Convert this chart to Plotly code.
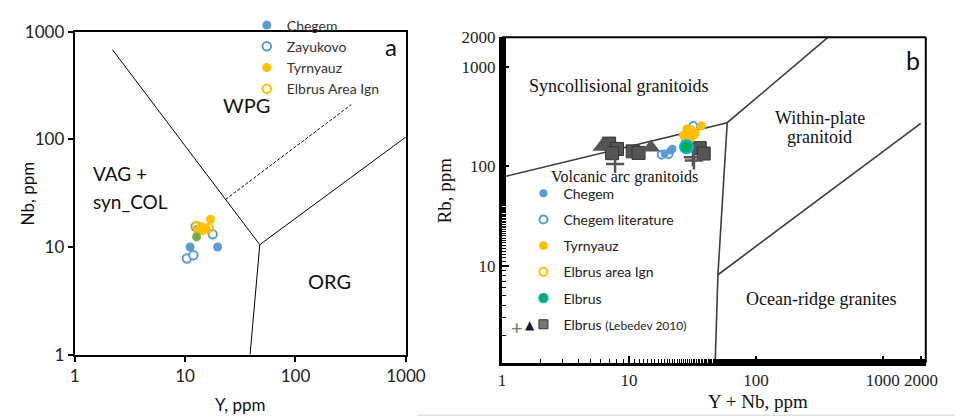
import plotly.graph_objects as go

W, H = 967, 420

# ---------------- Panel a: Nb vs Y (Pearce et al. 1984) ----------------
a_chegem_y = [11.1, 19.7]
a_chegem_nb = [10.0, 10.0]
a_chegem_small_y = [12.7]
a_chegem_small_nb = [15.2]
a_zayukovo_y = [10.4, 11.9, 17.8, 12.5]
a_zayukovo_nb = [7.8, 8.4, 13.1, 15.5]
a_tyrnyauz_y = [17.0, 14.0, 15.5, 13.1, 14.5]
a_tyrnyauz_nb = [18.1, 15.5, 14.8, 14.1, 14.2]
a_elbrus_ign_y = [16.4, 12.8, 13.6]
a_elbrus_ign_nb = [15.0, 15.7, 14.5]
a_elbrus_y = [12.7]
a_elbrus_nb = [12.4]

# boundaries, panel a
a_bound1_y = [2.2, 47.5, 1000]
a_bound1_nb = [680, 10.5, 105]
a_bound2_y = [47.5, 38.8]
a_bound2_nb = [10.5, 1.0]
a_dash_y = [23.3, 320]
a_dash_nb = [27.6, 210]

a_ticks = [1, 10, 100, 1000]

# ---------------- Panel b: Rb vs Y+Nb ----------------
b_chegem_x = [19.1, 21.3, 22.0]
b_chegem_rb = [135, 145, 151]
b_chegem_lit_x = [18.1, 20.5, 32.1]
b_chegem_lit_rb = [131, 132.5, 256]
b_tyrnyauz_x = [28.6, 37.2, 26.9, 30.3, 33.1, 27.8]
b_tyrnyauz_rb = [239, 257, 206, 198, 221, 184]
b_elbrus_ign_x = [32.6, 29.9, 30.8]
b_elbrus_ign_rb = [209, 189, 233]
b_elbrus_x = [28.4]
b_elbrus_rb = [158]
b_leb_sq_x = [6.98, 8.05, 7.36, 10.7, 11.9, 36.1, 38.8]
b_leb_sq_rb = [170, 150, 136, 142, 137, 153, 135]
b_leb_tri_x = [6.1, 14.9]
b_leb_tri_rb = [158, 155]
b_leb_cross_x = [7.77, 31.9, 32.5]
b_leb_cross_rb = [106, 124, 115]

# boundaries, panel b
b_bound1_x = [1.0, 59.4, 420]
b_bound1_rb = [78, 276, 2300]
b_bound2_x = [59.4, 50.2, 47.7]
b_bound2_rb = [276, 8.1, 1.0]
b_bound3_x = [50.2, 1990]
b_bound3_rb = [8.1, 272]

b_xticks = [1, 10, 100, 1000, 2000]
b_yticks = [10, 100, 1000, 2000]

BLUE = "#5B9BD5"
ORANGE = "#FFC000"
GREEN_A = "#70AD47"
GREEN_B = "#00B050"
CYAN = "#00B0F0"
GRAY = "#555555"

SANS = "Lato, 'Open Sans', sans-serif"
SERIF = "Liberation Serif"


def px(x):
    return x / W


def py(y):
    return 1 - y / H


fig = go.Figure()

# ----- panel a lines -----
for xs, ys, dash in [(a_bound1_y, a_bound1_nb, "solid"), (a_bound2_y, a_bound2_nb, "solid"),
                     (a_dash_y, a_dash_nb, "3px,2px")]:
    fig.add_trace(go.Scatter(x=xs, y=ys, mode="lines", line=dict(color="black", width=1, dash=dash),
                             showlegend=False, hoverinfo="skip", xaxis="x", yaxis="y"))

# ----- panel a points -----
fig.add_trace(go.Scatter(x=a_zayukovo_y, y=a_zayukovo_nb, mode="markers", name="Zayukovo",
                         marker=dict(size=8.5, color="white", line=dict(color=BLUE, width=2)),
                         xaxis="x", yaxis="y", legend="legend", legendrank=2))
fig.add_trace(go.Scatter(x=a_chegem_y, y=a_chegem_nb, mode="markers", name="Chegem",
                         marker=dict(size=9, color=BLUE),
                         xaxis="x", yaxis="y", legend="legend", legendrank=1))
fig.add_trace(go.Scatter(x=a_chegem_small_y, y=a_chegem_small_nb, mode="markers", name="Chegem",
                         marker=dict(size=5, color=BLUE), showlegend=False,
                         xaxis="x", yaxis="y"))
fig.add_trace(go.Scatter(x=a_tyrnyauz_y, y=a_tyrnyauz_nb, mode="markers", name="Tyrnyauz",
                         marker=dict(size=9, color=ORANGE),
                         xaxis="x", yaxis="y", legend="legend", legendrank=3))
fig.add_trace(go.Scatter(x=a_elbrus_ign_y, y=a_elbrus_ign_nb, mode="markers", name="Elbrus Area Ign",
                         marker=dict(size=8.5, color="rgba(0,0,0,0)", line=dict(color=ORANGE, width=2)),
                         xaxis="x", yaxis="y", legend="legend", legendrank=4))
fig.add_trace(go.Scatter(x=a_elbrus_y, y=a_elbrus_nb, mode="markers", name="Elbrus",
                         marker=dict(size=9, color=GREEN_A), showlegend=False,
                         xaxis="x", yaxis="y"))

# ----- panel b lines -----
for xs, ys in [(b_bound1_x, b_bound1_rb), (b_bound2_x, b_bound2_rb), (b_bound3_x, b_bound3_rb)]:
    fig.add_trace(go.Scatter(x=xs, y=ys, mode="lines", line=dict(color="#3c3c3c", width=1.6),
                             showlegend=False, hoverinfo="skip", xaxis="x2", yaxis="y2"))

# ----- panel b points -----
fig.add_trace(go.Scatter(x=b_leb_sq_x, y=b_leb_sq_rb, mode="markers", name="Lebedev squares",
                         marker=dict(symbol="square", size=13, color=GRAY, line=dict(color="#333", width=1)),
                         showlegend=False, xaxis="x2", yaxis="y2"))
fig.add_trace(go.Scatter(x=b_leb_tri_x, y=b_leb_tri_rb, mode="markers", name="Lebedev triangles",
                         marker=dict(symbol="triangle-up", size=16, color=GRAY),
                         showlegend=False, xaxis="x2", yaxis="y2"))
fig.add_trace(go.Scatter(x=b_leb_cross_x, y=b_leb_cross_rb, mode="markers", name="Lebedev crosses",
                         marker=dict(symbol="cross-thin", size=13, color=GRAY, line=dict(color=GRAY, width=2.5)),
                         showlegend=False, xaxis="x2", yaxis="y2"))
fig.add_trace(go.Scatter(x=b_chegem_lit_x, y=b_chegem_lit_rb, mode="markers", name="Chegem literature",
                         marker=dict(size=8, color="white", line=dict(color=BLUE, width=2)),
                         xaxis="x2", yaxis="y2", legend="legend2", legendrank=2, legendgroup="g2"))
fig.add_trace(go.Scatter(x=b_chegem_x, y=b_chegem_rb, mode="markers", name="Chegem",
                         marker=dict(size=8, color=BLUE),
                         xaxis="x2", yaxis="y2", legend="legend2", legendrank=1, legendgroup="g1"))
fig.add_trace(go.Scatter(x=b_tyrnyauz_x, y=b_tyrnyauz_rb, mode="markers", name="Tyrnyauz",
                         marker=dict(size=9, color=ORANGE),
                         xaxis="x2", yaxis="y2", legend="legend2", legendrank=3, legendgroup="g3"))
fig.add_trace(go.Scatter(x=b_elbrus_ign_x, y=b_elbrus_ign_rb, mode="markers", name="Elbrus area Ign",
                         marker=dict(size=8, color="rgba(0,0,0,0)", line=dict(color=ORANGE, width=2)),
                         xaxis="x2", yaxis="y2", legend="legend2", legendrank=4, legendgroup="g4"))
fig.add_trace(go.Scatter(x=b_elbrus_x, y=b_elbrus_rb, mode="markers", name="Elbrus",
                         marker=dict(size=13, color=GREEN_B, line=dict(color=CYAN, width=2)),
                         showlegend=False, xaxis="x2", yaxis="y2"))
# legend entries (no data) for the symbols whose legend size differs from the plotted size
fig.add_trace(go.Scatter(x=[None], y=[None], mode="markers", name="Elbrus",
                         marker=dict(size=9, color=GREEN_B, line=dict(color=CYAN, width=1.5)),
                         xaxis="x2", yaxis="y2", legend="legend2", legendrank=5, legendgroup="g5"))
fig.add_trace(go.Scatter(x=[None], y=[None], mode="markers",
                         name="Elbrus <span style='font-size:12px'>(Lebedev 2010)</span>",
                         marker=dict(symbol="square", size=9, color="#777", line=dict(color="#333", width=1)),
                         xaxis="x2", yaxis="y2", legend="legend2", legendrank=6, legendgroup="g6"))

# ----- axes -----
ax_a_common = dict(type="log", showline=True, linecolor="black", linewidth=2, mirror=True,
                   ticks="outside", ticklen=5, tickcolor="black", tickwidth=1.5, showgrid=False,
                   zeroline=False, tickfont=dict(family=SANS, size=17, color="#222"))
fig.update_layout(
    xaxis=dict(domain=[px(63.3), px(403.3)], range=[0, 3], tickvals=a_ticks,
               ticktext=[str(t) for t in a_ticks], anchor="y", **ax_a_common),
    yaxis=dict(domain=[py(353.3), py(13.3)], range=[0, 3], tickvals=a_ticks,
               ticktext=[str(t) for t in a_ticks], anchor="x", **ax_a_common),
)

ax_b_common = dict(type="log", showline=True, linecolor="black", linewidth=3, mirror=False,
                   ticks="inside", ticklen=7, tickcolor="black", tickwidth=1.5, showgrid=False,
                   zeroline=False, tickfont=dict(family=SERIF, size=17, color="#222"),
                   minor=dict(ticks="inside", ticklen=4, tickcolor="black", tickwidth=1, showgrid=False))
fig.update_layout(
    xaxis2=dict(domain=[px(502), px(937)], range=[0, 3.338], tickvals=b_xticks,
                ticktext=[str(t) for t in b_xticks], anchor="y2", **ax_b_common),
    yaxis2=dict(domain=[py(362), py(19.3)], range=[0.02, 3.3015], tickvals=b_yticks,
                ticktext=[str(t) for t in b_yticks], anchor="x2", **ax_b_common),
)

# ----- legends -----
fig.update_layout(
    legend=dict(x=px(240), y=py(-10), xanchor="left", yanchor="top", bgcolor="rgba(0,0,0,0)",
                font=dict(family=SANS, size=14, color="#333"), itemsizing="trace", traceorder="normal"),
    legend2=dict(x=px(524), y=py(167), xanchor="left", yanchor="top", bgcolor="rgba(0,0,0,0)",
                 font=dict(family=SANS, size=14, color="#222"), itemsizing="trace",
                 traceorder="grouped", tracegroupgap=5),
)

# ----- text -----
ann = []


def label(text, x, y, size, family, xanchor="center", textangle=0, color="#111"):
    ann.append(dict(text=text, x=px(x), y=py(y), xref="paper", yref="paper", xanchor=xanchor,
                    yanchor="middle", showarrow=False, textangle=textangle,
                    font=dict(family=family, size=size, color=color)))


# panel a
label("WPG", 240, 90, 20, SANS)
label("VAG +", 80, 163, 19, SANS, xanchor="left")
label("syn_COL", 80, 192, 19, SANS, xanchor="left")
label("ORG", 325, 276, 20, SANS)
label("a", 388, 29, 24, SANS)
label("Y, ppm", 233, 406, 17, SANS)
label("Nb, ppm", 15, 184, 17, SANS, textangle=-90)
# panel b
label("Syncollisional granitoids", 622, 71, 18, SERIF)
label("Within-plate", 828, 104, 18, SERIF)
label("granitoid", 828, 124, 18, SERIF)
label("Volcanic arc granitoids", 628, 166, 16, SERIF)
label("Ocean-ridge granites", 829, 295, 18, SERIF)
label("b", 924, 43, 25, SANS)
label("Y + Nb, ppm", 765, 403, 19, SERIF)
label("Rb, ppm", 443, 181, 19, SERIF, textangle=-90)
label("+", 517, 324, 20, SANS, color="#777")
label("▲", 531, 322, 12, "DejaVu Sans", color="#1a1a2e")

fig.update_layout(
    annotations=ann,
    width=W, height=H, margin=dict(l=0, r=0, t=0, b=0),
    paper_bgcolor="white", plot_bgcolor="white",
    shapes=[
        dict(type="line", xref="x2 domain", yref="y2 domain", x0=0, x1=1, y0=1, y1=1,
             line=dict(color="black", width=2)),
        dict(type="line", xref="x2 domain", yref="y2 domain", x0=1, x1=1, y0=0, y1=1,
             line=dict(color="black", width=2)),
        dict(type="line", xref="paper", yref="paper", x0=px(415), x1=1, y0=py(417), y1=py(417),
             line=dict(color="#e2e2e2", width=1.5)),
    ],
)

fig.write_html("out.html")
